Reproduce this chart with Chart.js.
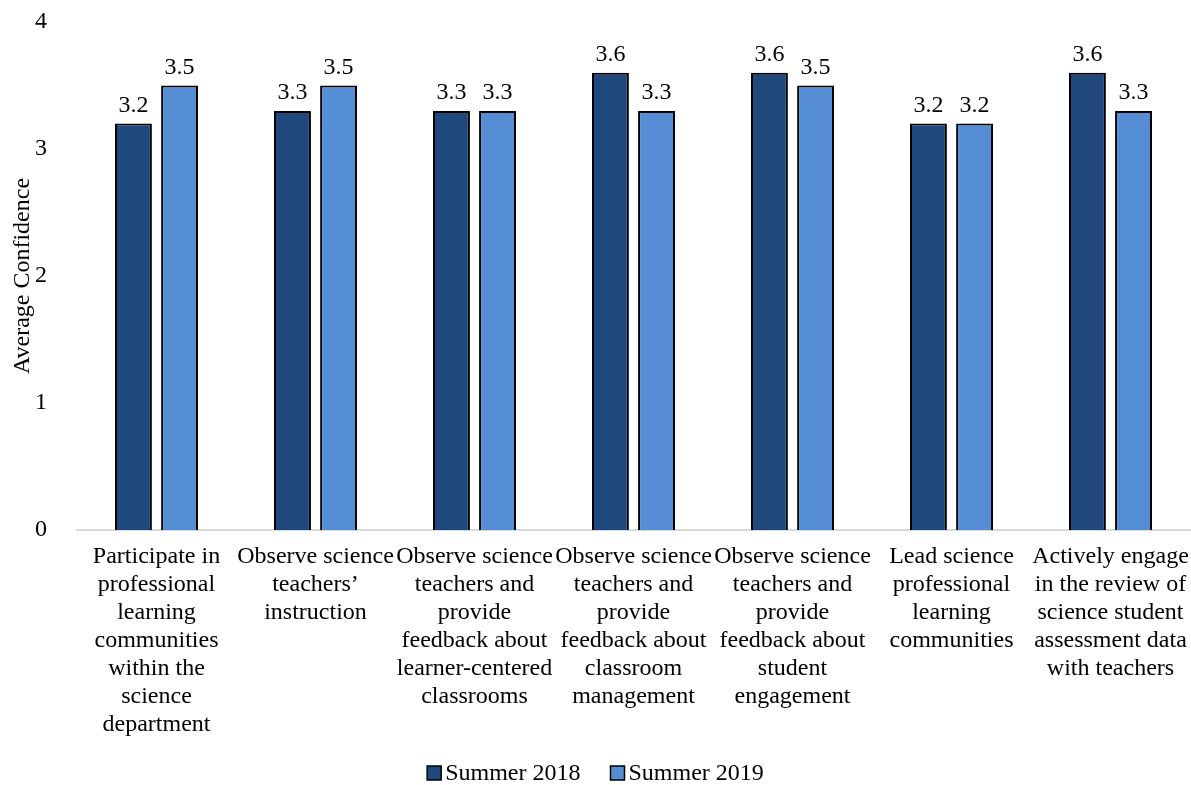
<!DOCTYPE html>
<html>
<head>
<meta charset="utf-8">
<script src="https://cdn.jsdelivr.net/npm/chart.js@4/dist/chart.umd.min.js"></script>
<style>
  html, body { margin: 0; padding: 0; background: #fff; }
  #wrap { width: 1191px; height: 785px; }
</style>
</head>
<body>
<div id="wrap"><canvas id="chart"></canvas></div>
<script>
const categories = [
  ['Participate in', 'professional', 'learning', 'communities', 'within the', 'science', 'department'],
  ['Observe science', 'teachers\u2019', 'instruction'],
  ['Observe science', 'teachers and', 'provide', 'feedback about', 'learner-centered', 'classrooms'],
  ['Observe science', 'teachers and', 'provide', 'feedback about', 'classroom', 'management'],
  ['Observe science', 'teachers and', 'provide', 'feedback about', 'student', 'engagement'],
  ['Lead science', 'professional', 'learning', 'communities'],
  ['Actively engage', 'in the review of', 'science student', 'assessment data', 'with teachers']
];
const summer2018 = [3.2, 3.3, 3.3, 3.6, 3.6, 3.2, 3.6];
const summer2019 = [3.5, 3.5, 3.3, 3.3, 3.5, 3.2, 3.3];
const yTicks = [0, 1, 2, 3, 4];

const fontFamily = '"Liberation Serif", "Times New Roman", serif';
const fontSize = 24;

// labels above the bars
const barLabels = {
  id: 'barLabels',
  afterDatasetsDraw(chart) {
    const ctx = chart.ctx;
    ctx.save();
    ctx.font = fontSize + 'px ' + fontFamily;
    ctx.fillStyle = '#000';
    ctx.textAlign = 'center';
    ctx.textBaseline = 'bottom';
    chart.data.datasets.forEach((ds, i) => {
      chart.getDatasetMeta(i).data.forEach((bar, j) => {
        ctx.fillText(ds.data[j].toFixed(1), bar.x, bar.y - 6);
      });
    });
    ctx.restore();
  }
};

// legend drawn below the axis, box right next to the text
const bottomLegend = {
  id: 'bottomLegend',
  afterDraw(chart) {
    const ctx = chart.ctx;
    const box = 14, gap = 4, itemGap = 30;
    const y = chart.height - 12;
    ctx.save();
    ctx.font = fontSize + 'px ' + fontFamily;
    ctx.textBaseline = 'middle';
    ctx.textAlign = 'left';
    const items = chart.data.datasets.map(ds => ({
      ds, w: box + gap + ctx.measureText(ds.label).width
    }));
    const total = items.reduce((s, it) => s + it.w, 0) + itemGap * (items.length - 1);
    let x = (chart.width - total) / 2;
    items.forEach(it => {
      ctx.fillStyle = it.ds.backgroundColor;
      ctx.fillRect(x, y - box / 2, box, box);
      ctx.strokeStyle = '#000';
      ctx.lineWidth = 1.5;
      ctx.strokeRect(x, y - box / 2, box, box);
      ctx.fillStyle = '#000';
      ctx.fillText(it.ds.label, x + box + gap, y + 1);
      x += it.w + itemGap;
    });
    ctx.restore();
  }
};

new Chart(document.getElementById('chart'), {
  type: 'bar',
  data: {
    labels: categories,
    datasets: [{
      label: 'Summer 2018',
      data: summer2018,
      backgroundColor: '#1F497D',
      borderColor: '#000',
      borderWidth: 2,
      barPercentage: 0.8,
      categoryPercentage: 0.58
    }, {
      label: 'Summer 2019',
      data: summer2019,
      backgroundColor: '#558ED5',
      borderColor: '#000',
      borderWidth: 2,
      barPercentage: 0.8,
      categoryPercentage: 0.58
    }]
  },
  options: {
    responsive: true,
    maintainAspectRatio: false,
    animation: false,
    layout: { padding: { top: 22, right: 1, left: 0, bottom: 41 } },
    plugins: {
      tooltip: { enabled: false },
      legend: { display: false }
    },
    scales: {
      x: {
        afterFit(axis) {
          axis.paddingLeft = 0;
          axis.paddingRight = 0;
        },
        grid: { display: false },
        border: { display: true, color: '#d9d9d9', width: 2 },
        ticks: {
          font: { family: fontFamily, size: fontSize, lineHeight: '28px' },
          color: '#000',
          maxRotation: 0,
          autoSkip: false,
          padding: 5
        }
      },
      y: {
        min: 0,
        max: 4,
        afterBuildTicks(axis) { axis.ticks = yTicks.map(v => ({ value: v })); },
        afterFit(axis) {
          axis.width = 77;
          axis.paddingTop = 0;
          axis.paddingBottom = 0;
        },
        grid: { display: false },
        border: { display: false },
        ticks: {
          font: { family: fontFamily, size: fontSize },
          color: '#000',
          padding: 22
        },
        title: {
          display: true,
          text: 'Average Confidence',
          font: { family: fontFamily, size: fontSize },
          color: '#000',
          padding: { top: 8, bottom: 0 }
        }
      }
    }
  },
  plugins: [barLabels, bottomLegend]
});
</script>
</body>
</html>
